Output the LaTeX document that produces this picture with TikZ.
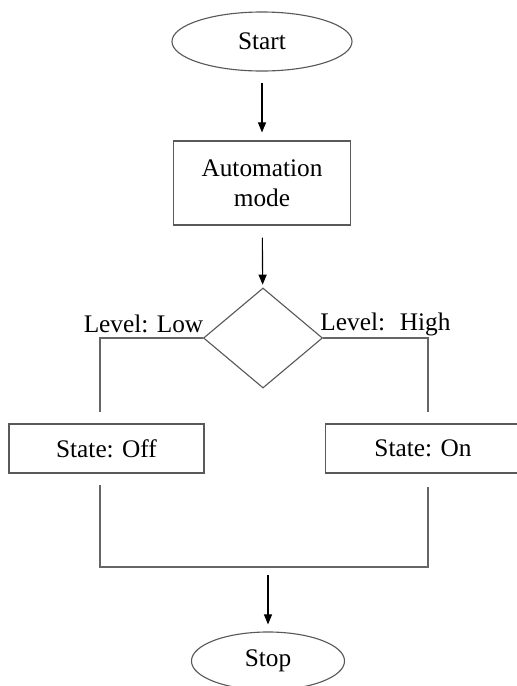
\documentclass[tikz,border=0pt]{standalone}
\usepackage{fontspec}
\setmainfont{Liberation Serif}
\usetikzlibrary{arrows.meta,shapes.geometric}

\begin{document}
\begin{tikzpicture}[x=0.025cm,y=-0.025cm,>={Triangle[length=2.5mm,width=2mm]},font=\fontsize{18}{21}\selectfont,line width=0.8pt]
\tikzstyle{b}=[draw=black!65,align=center,inner sep=0pt]
\tikzstyle{ln}=[draw=black!60]
\useasboundingbox (0,0) rectangle (516,686);
\node[b,ellipse,minimum width=4.5cm,minimum height=1.475cm] (start) at (262,41.5) {Start};
\node[b,minimum width=4.425cm,minimum height=2.1cm] (auto) at (262,183) {Automation\\ mode};
\node[b,diamond,minimum width=2.975cm,minimum height=2.5cm] (dia) at (263,338) {};
\node[b,minimum width=4.875cm,minimum height=1.225cm] (off) at (106.5,448.5) {State: Off};
\node[b,minimum width=4.875cm,minimum height=1.225cm] (on) at (423,448.5) {State: On};
\node[b,ellipse,minimum width=3.825cm,minimum height=1.45cm] (stop) at (268,661) {Stop};
\node (low) at (143.5,324) {Level: Low};
\node (high) at (385.5,324) {Level: \ High};
% free ends of the branch lines
\coordinate (lowend) at (100,412);
\coordinate (highend) at (428,412);
\coordinate (offtail) at (100,485);
\coordinate (ontail) at (428,487);
\coordinate (join) at (268,567);
\draw[->,shorten <=0.275cm,shorten >=0.2cm] (start) -- (auto);
\draw[->,shorten <=0.3cm,shorten >=0.075cm] (auto) -- (dia);
\draw[ln] (dia.west) -| (lowend);
\draw[ln] (dia.east) -| (highend);
\draw[ln] (offtail) |- (join) -| (ontail);
\draw[->,shorten <=0.2cm,shorten >=0.175cm] (join) -- (stop);
\end{tikzpicture}
\end{document}
